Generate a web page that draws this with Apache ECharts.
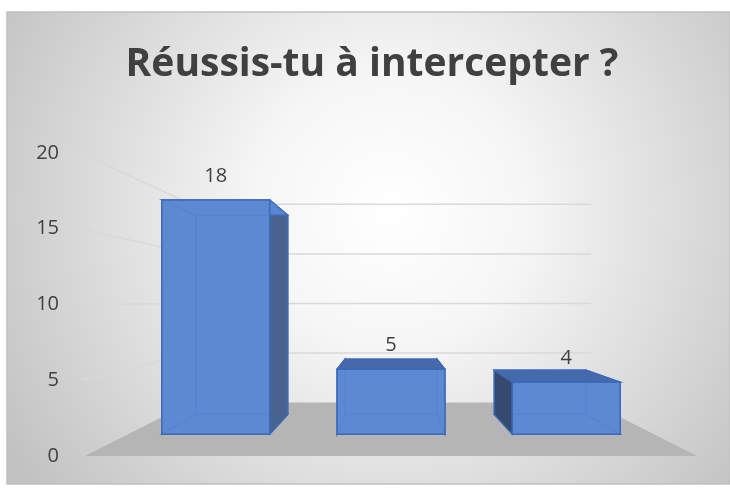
<!DOCTYPE html>
<html>
<head>
<meta charset="utf-8">
<script src="https://cdn.jsdelivr.net/npm/echarts@6/dist/echarts.min.js"></script>
<style>
  html, body { margin: 0; padding: 0; background: #fff; }
  #main { width: 730px; height: 490px; }
</style>
</head>
<body>
<div id="main"></div>
<script>
const titleText = 'Réussis-tu à intercepter ?';
const categories = ['1', '2', '3'];
const values = [18, 5, 4];
const yTicks = [0, 5, 10, 15, 20];

// fake 3d: every point is pulled toward a vanishing point, s = 1 is the front plane
const S_BAR_FRONT = 0.859;
const S_BAR_BACK = 0.731;
const S_WALL = 0.654;
const BAR_RATIO = 0.616;
const FONT = '"Open Sans", "Noto Sans", sans-serif';

function vanish(cs) {
  return [cs.x + cs.width * 0.5, cs.y + cs.height * 0.49];
}
function proj(vp, x, y, s) {
  return [vp[0] + (x - vp[0]) * s, vp[1] + (y - vp[1]) * s];
}
function poly(points, fill, stroke, lw) {
  return {
    type: 'polygon',
    shape: { points: points },
    style: { fill: fill, stroke: stroke || null, lineWidth: lw || 0 }
  };
}

function renderWall(params, api) {
  const cs = params.coordSys;
  const vp = vanish(cs);
  const l = cs.x, r = cs.x + cs.width;
  const y0 = api.coord([0, 0])[1];
  const children = [
    poly([proj(vp, l, y0, 1), proj(vp, r, y0, 1), proj(vp, r, y0, S_WALL), proj(vp, l, y0, S_WALL)], '#b5b5b5')
  ];
  yTicks.forEach(v => {
    if (v === 0) return;
    const y = api.coord([0, v])[1];
    children.push({
      type: 'polyline',
      shape: { points: [[l - 4, y], proj(vp, l, y, S_WALL), proj(vp, r, y, S_WALL)] },
      style: { fill: null, stroke: '#d9d9d9', lineWidth: 1.5 }
    });
  });
  return { type: 'group', children: children };
}

function renderBar(params, api) {
  const cs = params.coordSys;
  const vp = vanish(cs);
  const base = api.coord([api.value(0), 0]);
  const top = api.coord([api.value(0), api.value(1)]);
  const half = api.size([1, 0])[0] * BAR_RATIO / 2;
  const xL = base[0] - half, xR = base[0] + half, yT = top[1], yB = base[1];

  const face = s => ({
    tl: proj(vp, xL, yT, s), tr: proj(vp, xR, yT, s),
    br: proj(vp, xR, yB, s), bl: proj(vp, xL, yB, s)
  });
  const f = face(S_BAR_FRONT), b = face(S_BAR_BACK);

  const front = '#5b87d0';
  const inner = '#3f6dc0';
  const edge = '#3d69b9';

  const topVis = b.tl[1] < f.tl[1];
  const leftVis = b.tl[0] < f.tl[0];
  const rightVis = b.tr[0] > f.tr[0];

  const children = [
    poly([b.tl, b.tr, b.br, b.bl], front, inner, 1.2),
    poly([f.bl, f.br, b.br, b.bl], front, inner, 1.2),
    poly([f.tl, b.tl, b.bl, f.bl], leftVis ? '#36496f' : front, leftVis ? edge : inner, 1.2),
    poly([f.tr, b.tr, b.br, f.br], rightVis ? '#48638f' : front, rightVis ? edge : inner, 1.2),
    poly([f.tl, f.tr, b.tr, b.tl], topVis ? '#4569ab' : front, topVis ? edge : inner, 1.2),
    poly([f.tl, f.tr, f.br, f.bl], 'rgba(93,137,210,0.8)', edge, 1.5)
  ];
  const lab = proj(vp, base[0], yT, S_BAR_FRONT);
  children.push({
    type: 'text',
    x: lab[0],
    y: lab[1] - 24,
    style: {
      text: String(api.value(1)),
      font: '20px ' + FONT,
      fill: '#404040',
      align: 'center',
      verticalAlign: 'middle'
    }
  });
  return { type: 'group', children: children };
}

const chart = echarts.init(document.getElementById('main'));
chart.setOption({
  animation: false,
  graphic: [
    {
      type: 'rect',
      z: -10,
      shape: { x: 7, y: 12, width: 723, height: 472 },
      style: {
        fill: new echarts.graphic.RadialGradient(0.53, 0.42, 0.95, [
          { offset: 0, color: '#ffffff' },
          { offset: 0.3, color: '#f6f6f6' },
          { offset: 1, color: '#c2c2c2' }
        ]),
        stroke: '#c0c0c0',
        lineWidth: 1.5
      }
    },
    {
      type: 'text',
      x: 372,
      y: 65,
      style: {
        text: titleText,
        font: 'bold 39px ' + FONT,
        fill: '#404040',
        align: 'center',
        verticalAlign: 'middle'
      }
    }
  ],
  grid: { left: 85, right: 33, top: 153, bottom: 34 },
  xAxis: {
    type: 'category',
    data: categories,
    axisLine: { show: false },
    axisTick: { show: false },
    axisLabel: { show: false }
  },
  yAxis: {
    type: 'value',
    min: 0,
    max: 20,
    interval: 5,
    axisLine: { show: false },
    axisTick: { show: false },
    splitLine: { show: false },
    axisLabel: {
      margin: 26,
      fontSize: 20,
      fontFamily: FONT,
      color: '#404040',
      formatter: v => yTicks.indexOf(v) >= 0 ? String(v) : ''
    }
  },
  series: [
    {
      type: 'custom',
      z: 1,
      silent: true,
      data: [[0, 0]],
      renderItem: renderWall
    },
    {
      type: 'custom',
      z: 2,
      data: values.map((v, i) => [i, v]),
      encode: { x: 0, y: 1 },
      renderItem: renderBar
    }
  ]
});
</script>
</body>
</html>
